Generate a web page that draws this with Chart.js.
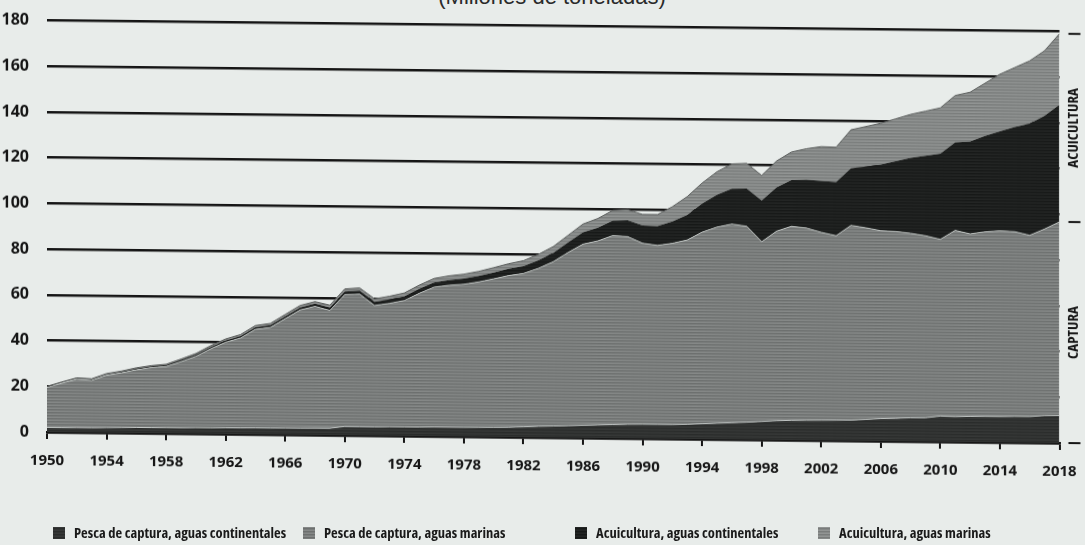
<!DOCTYPE html>
<html lang="es">
<head>
<meta charset="utf-8">
<title>Producción mundial de la pesca de captura y la acuicultura</title>
<script src="https://cdn.jsdelivr.net/npm/chart.js@4.4.1/dist/chart.umd.min.js"></script>
<style>
  html, body { margin: 0; padding: 0; background: #e8ecea; }
  #wrap { position: relative; width: 1085px; height: 545px; overflow: hidden; background: #e8ecea; }
  /* the scanned page is slightly sheared: right side sits ~11px lower */
  #chart-box { position: absolute; left: 0; top: 0; width: 1085px; height: 545px;
               transform: skewY(0.62deg); transform-origin: 47px 0; }
  #subtitle { position: absolute; top: -13px; left: 0; width: 1104px; text-align: center;
              font: 22px/20px 'Liberation Sans', Arial, sans-serif; color: #2a2a2a; }
  .lg-item { position: absolute; top: 524px; height: 17px; display: flex; align-items: center;
             font-family: 'Open Sans', 'Noto Sans', sans-serif; font-weight: bold; font-size: 14.5px; line-height: 17px;
             font-stretch: 78%; color: #1a1a1a; white-space: nowrap; }
  .lg-box { width: 12px; height: 12px; margin-right: 9px; flex: none; }
</style>
</head>
<body>
<div id="wrap">
  <div id="subtitle">(Millones de toneladas)</div>
  <div id="chart-box"><canvas id="chart" width="1085" height="545"></canvas></div>
  <div id="legend"></div>
</div>
<script>
/* ---------------- Data (millones de toneladas) ---------------- */
const years = [
  1950,1951,1952,1953,1954,1955,1956,1957,1958,1959,
  1960,1961,1962,1963,1964,1965,1966,1967,1968,1969,
  1970,1971,1972,1973,1974,1975,1976,1977,1978,1979,
  1980,1981,1982,1983,1984,1985,1986,1987,1988,1989,
  1990,1991,1992,1993,1994,1995,1996,1997,1998,1999,
  2000,2001,2002,2003,2004,2005,2006,2007,2008,2009,
  2010,2011,2012,2013,2014,2015,2016,2017,2018
];
const capturaContinental = [
  2.0, 2.0, 2.1, 2.1, 2.2, 2.3, 2.4, 2.4, 2.5, 2.5,
  2.6, 2.6, 2.7, 2.7, 2.8, 2.8, 2.9, 2.9, 3.0, 3.0,
  3.8, 3.8, 3.8, 3.9, 3.9, 3.9, 4.0, 4.0, 4.0, 4.1,
  4.2, 4.3, 4.5, 4.8, 5.0, 5.2, 5.5, 5.7, 5.9, 6.1,
  6.2, 6.2, 6.2, 6.4, 6.7, 7.0, 7.3, 7.6, 8.0, 8.4,
  8.6, 8.7, 8.8, 8.9, 9.0, 9.4, 9.8, 10.0, 10.3, 10.4,
  11.2, 11.0, 11.2, 11.3, 11.3, 11.4, 11.4, 11.9, 12.0
];
const capturaMarina = [
  17.4, 19.4, 21.1, 20.7, 22.9, 23.9, 25.2, 26.2, 26.7, 28.9,
  31.2, 34.6, 37.4, 39.3, 43.1, 44.0, 47.8, 51.7, 53.2, 51.5,
  57.7, 58.0, 53.1, 54.0, 55.3, 58.5, 61.2, 62.1, 62.6, 63.6,
  64.9, 66.3, 67.1, 69.1, 71.9, 75.8, 79.2, 80.5, 82.7, 82.1,
  79.2, 78.3, 79.3, 80.6, 83.8, 85.8, 86.9, 85.7, 78.6, 82.9,
  84.9, 84.1, 82.2, 80.7, 85.2, 83.8, 82.2, 81.7, 80.7, 79.6,
  77.3, 81.5, 79.8, 80.7, 81.2, 80.8, 79.3, 81.6, 84.7
];
const acuiculturaContinental = [
  0.3, 0.3, 0.35, 0.4, 0.4, 0.45, 0.5, 0.55, 0.6, 0.7,
  0.75, 0.8, 0.85, 0.9, 0.95, 1.0, 1.05, 1.1, 1.2, 1.3,
  1.4, 1.5, 1.6, 1.7, 1.8, 2.0, 2.1, 2.3, 2.5, 2.6,
  2.8, 3.0, 3.2, 3.5, 3.8, 4.4, 5.2, 5.8, 6.5, 7.2,
  7.8, 8.5, 9.5, 11.0, 12.5, 14.2, 15.5, 16.5, 18.0, 19.2,
  20.2, 21.2, 22.5, 23.5, 25.0, 26.8, 29.0, 30.8, 33.0, 35.0,
  37.5, 38.5, 40.5, 42.0, 43.5, 45.8, 48.8, 49.5, 51.3
];
const acuiculturaMarina = [
  0.3, 0.3, 0.3, 0.3, 0.35, 0.35, 0.4, 0.4, 0.4, 0.45,
  0.5, 0.55, 0.6, 0.65, 0.7, 0.75, 0.8, 0.85, 0.9, 1.0,
  1.1, 1.2, 1.3, 1.4, 1.5, 1.6, 1.7, 1.8, 1.9, 2.0,
  2.1, 2.2, 2.4, 2.6, 2.8, 3.1, 3.6, 4.0, 4.5, 4.6,
  4.8, 5.0, 6.5, 8.0, 9.0, 10.0, 10.8, 11.0, 11.0, 11.5,
  12.3, 13.5, 15.0, 15.2, 16.8, 17.5, 18.0, 18.5, 19.0, 19.5,
  20.0, 20.5, 21.5, 23.0, 25.0, 26.0, 27.5, 28.5, 31.0
];
const xTicks = [1950,1954,1958,1962,1966,1970,1974,1978,1982,1986,1990,1994,1998,2002,2006,2010,2014,2018];
const yTicks = [0,20,40,60,80,100,120,140,160,180];
const seriesLabels = [
  'Pesca de captura, aguas continentales',
  'Pesca de captura, aguas marinas',
  'Acuicultura, aguas continentales',
  'Acuicultura, aguas marinas'
];

/* ---------------- Look ---------------- */
const NARROW = "'Open Sans', 'Noto Sans', sans-serif";
const INK = '#151515';
// scanned halftone look: rows of slightly different greys
const stripes = [
  ['#363837', '#2a2c2b', '#313332'],
  ['#858887', '#6d706f', '#7a7d7c'],
  ['#232524', '#171918', '#1e201f'],
  ['#919493', '#797c7b', '#868988']
];
const legendLeft = [53, 303, 575, 818];

function makePattern(rows) {
  const c = document.createElement('canvas');
  c.width = 8; c.height = rows.length;
  const g = c.getContext('2d');
  rows.forEach((col, i) => { g.fillStyle = col; g.fillRect(0, i, 8, 1); });
  return g.createPattern(c, 'repeat');
}
const toXY = vals => years.map((yr, i) => ({ x: yr, y: vals[i] }));
const noPad = ax => { ax.paddingTop = 0; ax.paddingBottom = 0; ax.paddingLeft = 0; ax.paddingRight = 0; };

/* right-hand brackets: ACUICULTURA / CAPTURA */
const sideLabels = {
  id: 'sideLabels',
  afterDraw(chart) {
    const { ctx, chartArea, scales: { y } } = chart;
    const last = years.length - 1;
    const capTop = capturaContinental[last] + capturaMarina[last];
    const total = capTop + acuiculturaContinental[last] + acuiculturaMarina[last];
    const yTot = y.getPixelForValue(total), yCap = y.getPixelForValue(capTop), y0 = y.getPixelForValue(0);
    const x0 = chartArea.right + 9, x1 = chartArea.right + 21;
    ctx.save();
    ctx.strokeStyle = INK; ctx.lineWidth = 2;
    [yTot, yCap, y0].forEach(v => { ctx.beginPath(); ctx.moveTo(x0, v); ctx.lineTo(x1, v); ctx.stroke(); });
    ctx.fillStyle = INK;
    ctx.font = 'condensed bold 15px ' + NARROW;
    ctx.textAlign = 'center'; ctx.textBaseline = 'middle';
    const cx = chartArea.right + 14;
    [['ACUICULTURA', (yTot + yCap) / 2], ['CAPTURA', (yCap + y0) / 2]].forEach(([t, cy]) => {
      ctx.save(); ctx.translate(cx, cy); ctx.rotate(-Math.PI / 2); ctx.fillText(t, 0, 0); ctx.restore();
    });
    ctx.restore();
  }
};

const seriesValues = [capturaContinental, capturaMarina, acuiculturaContinental, acuiculturaMarina];
const borders = [
  { color: 'rgba(214,219,217,0.8)', width: 1 },
  { color: 'rgba(214,219,217,0.7)', width: 1 },
  { color: 'rgba(0,0,0,0)', width: 0 },
  { color: '#5d605f', width: 1 }
];

const chart = new Chart(document.getElementById('chart'), {
  type: 'line',
  data: {
    datasets: seriesValues.map((vals, i) => ({
      label: seriesLabels[i],
      data: toXY(vals),
      backgroundColor: makePattern(stripes[i]),
      borderColor: borders[i].color,
      borderWidth: borders[i].width,
      fill: i === 0 ? 'origin' : '-1',
      pointRadius: 0,
      tension: 0
    }))
  },
  options: {
    responsive: false,
    animation: false,
    layout: { autoPadding: false, padding: { top: 20.5, right: 25.5, bottom: 60, left: 0 } },
    plugins: { legend: { display: false }, tooltip: { enabled: false } },
    scales: {
      x: {
        type: 'linear', min: 1950, max: 2018,
        afterBuildTicks: ax => { ax.ticks = xTicks.map(v => ({ value: v })); },
        afterFit: ax => { ax.height = 53; noPad(ax); },
        grid: { drawOnChartArea: false, drawTicks: true, tickLength: 7, color: INK, lineWidth: 2 },
        border: { display: true, color: INK, width: 2.5 },
        ticks: { padding: 13, color: INK, font: { family: NARROW, size: 15, weight: 'bold', style: 'condensed' },
                 maxRotation: 0, autoSkip: false, callback: v => String(v) }
      },
      y: {
        stacked: true, min: 0, max: 180,
        afterBuildTicks: ax => { ax.ticks = yTicks.map(v => ({ value: v })); },
        afterFit: ax => { ax.width = 47; noPad(ax); },
        grid: { color: INK, lineWidth: 2.5, drawTicks: false },
        border: { display: false },
        ticks: { padding: 18, color: INK, font: { family: NARROW, size: 16, weight: 'bold', style: 'condensed' } }
      }
    }
  },
  plugins: [sideLabels]
});

/* ---------------- Legend (flat, below the chart) ---------------- */
const legend = document.getElementById('legend');
chart.data.datasets.forEach((ds, i) => {
  const rows = stripes[i];
  const item = document.createElement('div');
  item.className = 'lg-item';
  item.style.left = legendLeft[i] + 'px';
  item.innerHTML = `<span class="lg-box" style="background:repeating-linear-gradient(180deg, ${rows[0]} 0 1px, ${rows[1]} 1px 2px, ${rows[2]} 2px 3px)"></span>${ds.label}`;
  legend.appendChild(item);
});
</script>
</body>
</html>
